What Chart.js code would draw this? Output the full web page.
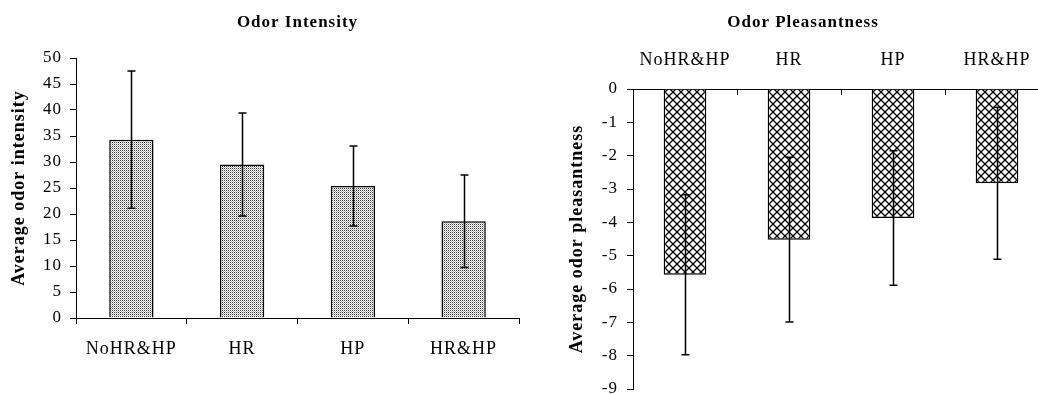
<!DOCTYPE html>
<html>
<head>
<meta charset="utf-8">
<script src="https://cdn.jsdelivr.net/npm/chart.js@4/dist/chart.umd.min.js"></script>
<style>
  html, body { margin: 0; padding: 0; background: #fff; overflow: hidden; width: 1038px; height: 394px; }
  #wrap { position: relative; width: 1038px; height: 394px; overflow: hidden; }
  canvas { position: absolute; top: 0; }
  #c1 { left: 0; }
  #c2 { left: 557px; }
</style>
</head>
<body>
<div id="wrap">
  <canvas id="c1" width="520" height="394"></canvas>
  <canvas id="c2" width="492" height="394"></canvas>
</div>
<script>
// ---- data ----
const categories = ['NoHR&HP', 'HR', 'HP', 'HR&HP'];
const intensityMeans = [34.3, 29.5, 25.4, 18.6];
const intensityErrors = [13.2, 9.9, 7.7, 8.9];
const pleasantnessMeans = [-5.57, -4.52, -3.87, -2.83];
const pleasantnessErrors = [2.4, 2.47, 2.02, 2.28];
const intensityTickRange = [0, 50, 5];      // min, max, step
const pleasantnessTickRange = [-9, 0, 1];   // min, max, step

const FONT = "'Liberation Serif', 'Times New Roman', serif";

function stipplePattern() {
  const c = document.createElement('canvas');
  c.width = 2; c.height = 2;
  const g = c.getContext('2d');
  g.fillStyle = '#ffffff'; g.fillRect(0, 0, 2, 2);
  g.fillStyle = '#3a3a3a'; g.fillRect(0, 0, 1, 1);
  g.fillStyle = '#b8b8b8'; g.fillRect(1, 1, 1, 1);
  return g.createPattern(c, 'repeat');
}
function crossPattern() {
  const c = document.createElement('canvas');
  c.width = 8; c.height = 8;
  const g = c.getContext('2d');
  g.fillStyle = '#ffffff'; g.fillRect(0, 0, 8, 8);
  g.strokeStyle = '#000000'; g.lineWidth = 1.3;
  g.beginPath();
  g.moveTo(-1, -1); g.lineTo(9, 9);
  g.moveTo(-1, 9); g.lineTo(9, -1);
  g.stroke();
  return g.createPattern(c, 'repeat');
}

const spacingPlugin = {
  id: 'spacing',
  beforeUpdate(chart) { chart.ctx.letterSpacing = '1px'; },
  beforeDraw(chart) { chart.ctx.letterSpacing = '1px'; }
};

const errorBars = {
  id: 'errorBars',
  afterDatasetsDraw(chart, args, opts) {
    const ctx = chart.ctx;
    const meta = chart.getDatasetMeta(0);
    const ys = chart.scales.y;
    const vals = chart.data.datasets[0].data;
    ctx.save();
    ctx.strokeStyle = '#000';
    ctx.lineWidth = 1.5;
    meta.data.forEach((bar, i) => {
      const v = vals[i], e = opts.errors[i];
      const x = Math.round(bar.x) + 0.5;
      const y1 = ys.getPixelForValue(v + e);
      const y2 = ys.getPixelForValue(v - e);
      ctx.beginPath();
      ctx.moveTo(x, y1); ctx.lineTo(x, y2);
      ctx.moveTo(x - 4, y1); ctx.lineTo(x + 4, y1);
      ctx.moveTo(x - 4, y2); ctx.lineTo(x + 4, y2);
      ctx.stroke();
    });
    ctx.restore();
  }
};

const innerTicks = {
  id: 'innerTicks',
  afterDraw(chart) {
    const xs = chart.scales.x;
    const top = chart.chartArea.top;
    const ctx = chart.ctx;
    ctx.save();
    ctx.strokeStyle = '#000';
    ctx.lineWidth = 1;
    for (let i = 1; i < chart.data.labels.length; i++) {
      const px = Math.round((xs.getPixelForValue(i - 1) + xs.getPixelForValue(i)) / 2) + 0.5;
      ctx.beginPath(); ctx.moveTo(px, top); ctx.lineTo(px, top + 6); ctx.stroke();
    }
    ctx.restore();
  }
};

Chart.defaults.font.family = FONT;
Chart.defaults.color = '#000';

// ---- Left chart: Odor Intensity ----
new Chart(document.getElementById('c1'), {
  type: 'bar',
  data: {
    labels: categories,
    datasets: [{
      data: intensityMeans,
      backgroundColor: stipplePattern(),
      borderColor: '#000',
      borderWidth: 1.5,
      barPercentage: 0.4,
      categoryPercentage: 1.0
    }]
  },
  options: {
    responsive: false,
    animation: false,
    devicePixelRatio: 1,
    layout: { padding: { left: 0, right: 1, top: 0, bottom: 0 } },
    plugins: {
      legend: { display: false },
      tooltip: { enabled: false },
      title: {
        display: true, text: 'Odor Intensity', fullSize: false,
        font: { size: 17, weight: 'bold', family: FONT, lineHeight: 1.2 },
        color: '#000',
        padding: { top: 12, bottom: 25.6 }
      },
      errorBars: { errors: intensityErrors }
    },
    scales: {
      x: {
        grid: { drawOnChartArea: false, drawTicks: true, tickLength: 6, color: '#000', offset: true },
        border: { display: true, color: '#000', width: 1 },
        ticks: { font: { size: 18, family: FONT, lineHeight: 1.2 }, color: '#000', padding: 14, maxRotation: 0, autoSkip: false },
        afterFit(s) { s.height = 76; s.paddingLeft = 0; s.paddingRight = 0; }
      },
      y: {
        min: intensityTickRange[0], max: intensityTickRange[1],
        grid: { drawOnChartArea: false, drawTicks: true, tickLength: 6, color: '#000' },
        border: { display: true, color: '#000', width: 1 },
        ticks: { stepSize: intensityTickRange[2], font: { size: 17, family: FONT, lineHeight: 1.2 }, color: '#000', padding: 8 },
        title: { display: true, text: 'Average odor intensity', font: { size: 18, weight: 'bold', family: FONT, lineHeight: 1.2 }, color: '#000', padding: { top: 9, bottom: 0 } },
        afterFit(s) { s.width = 76; s.paddingTop = 0; s.paddingBottom = 0; }
      }
    }
  },
  plugins: [spacingPlugin, errorBars]
});

// ---- Right chart: Odor Pleasantness ----
new Chart(document.getElementById('c2'), {
  type: 'bar',
  data: {
    labels: categories,
    datasets: [{
      data: pleasantnessMeans,
      backgroundColor: crossPattern(),
      borderColor: '#000',
      borderWidth: 1.5,
      barPercentage: 0.41,
      categoryPercentage: 1.0
    }]
  },
  options: {
    responsive: false,
    animation: false,
    devicePixelRatio: 1,
    layout: { padding: { left: 0, right: 0, top: 0, bottom: 5 } },
    plugins: {
      legend: { display: false },
      tooltip: { enabled: false },
      title: {
        display: true, text: 'Odor Pleasantness', fullSize: true,
        font: { size: 17, weight: 'bold', family: FONT, lineHeight: 1.2 },
        color: '#000',
        padding: { top: 12, bottom: 8 }
      },
      errorBars: { errors: pleasantnessErrors }
    },
    scales: {
      x: {
        position: 'top',
        grid: { drawOnChartArea: false, drawTicks: false, color: '#000', offset: true },
        border: { display: true, color: '#000', width: 1 },
        ticks: { font: { size: 18, family: FONT, lineHeight: 1.2 }, color: '#000', padding: 18, maxRotation: 0, autoSkip: false },
        afterFit(s) { s.height = 48.6; s.paddingLeft = 0; s.paddingRight = 0; }
      },
      y: {
        min: pleasantnessTickRange[0], max: pleasantnessTickRange[1],
        grid: { drawOnChartArea: false, drawTicks: true, tickLength: 6, color: '#000' },
        border: { display: true, color: '#000', width: 1 },
        ticks: { stepSize: pleasantnessTickRange[2], font: { size: 17, family: FONT, lineHeight: 1.2 }, color: '#000', padding: 9 },
        title: { display: true, text: 'Average odor pleasantness', font: { size: 18, weight: 'bold', family: FONT, lineHeight: 1.2 }, color: '#000', padding: { top: 10, bottom: 0 } },
        afterFit(s) { s.width = 76; s.paddingTop = 0; s.paddingBottom = 0; }
      }
    }
  },
  plugins: [spacingPlugin, errorBars, innerTicks]
});
</script>
</body>
</html>
